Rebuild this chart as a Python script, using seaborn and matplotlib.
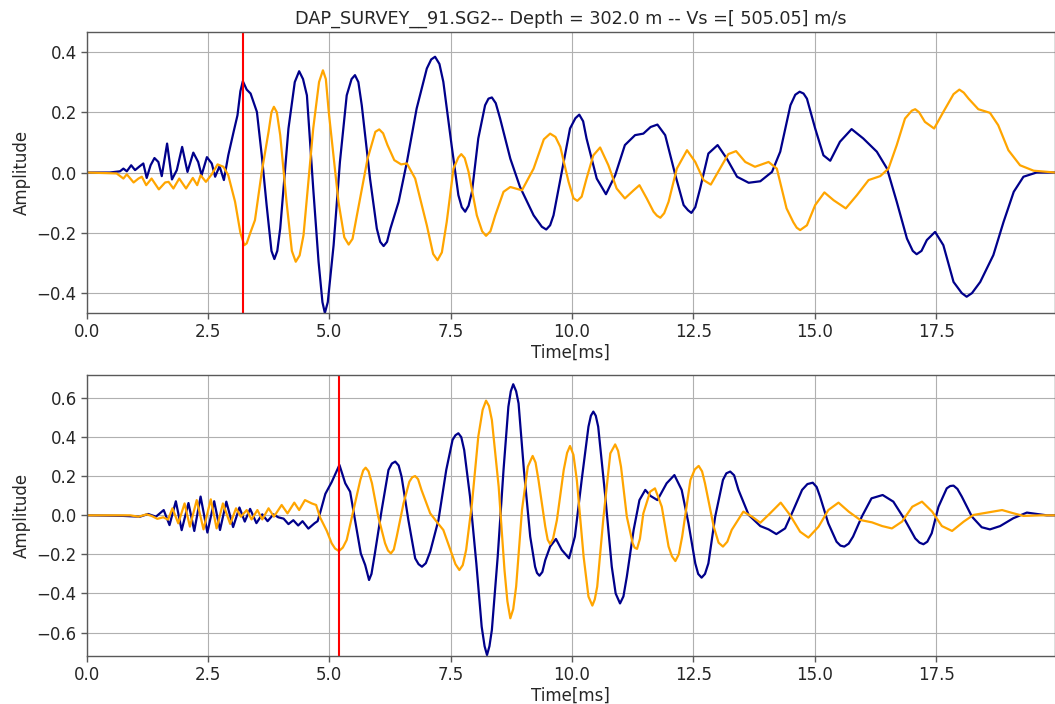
import numpy as np
import pandas as pd
import matplotlib
matplotlib.use("Agg")
import matplotlib.pyplot as plt
import seaborn as sns

# Waveforms: (time [ms], amplitude)
top_blue = [
    (0.00, 0.000), (0.48, 0.000), (0.69, 0.004), (0.76, 0.013), (0.83, 0.004),
    (0.92, 0.024), (1.00, 0.008), (1.09, 0.020), (1.17, 0.030), (1.24, -0.018),
    (1.32, 0.024), (1.40, 0.048), (1.48, 0.035), (1.55, -0.012), (1.66, 0.096),
    (1.76, -0.023), (1.86, 0.008), (1.97, 0.085), (2.08, 0.002), (2.20, 0.066),
    (2.30, 0.035), (2.37, -0.009), (2.48, 0.051), (2.58, 0.030), (2.65, -0.014),
    (2.74, 0.021), (2.83, -0.025), (2.92, 0.057), (3.03, 0.135), (3.11, 0.190),
    (3.22, 0.303), (3.30, 0.275), (3.38, 0.262), (3.51, 0.201), (3.61, 0.057),
    (3.71, -0.108), (3.87, -0.287), (3.99, -0.186), (4.16, 0.146), (4.38, 0.336),
    (4.54, 0.256), (4.67, -0.053), (4.78, -0.296), (4.91, -0.466), (5.09, -0.241),
    (5.22, 0.035), (5.36, 0.256), (5.53, 0.323), (5.67, 0.223), (5.84, -0.020),
    (5.98, -0.186), (6.12, -0.244), (6.26, -0.186), (6.43, -0.097), (6.60, 0.035),
    (6.80, 0.212), (7.01, 0.345), (7.18, 0.384), (7.35, 0.301), (7.52, 0.091),
    (7.66, -0.075), (7.80, -0.130), (7.94, -0.064), (8.07, 0.113), (8.21, 0.223),
    (8.35, 0.249), (8.52, 0.179), (8.73, 0.046), (8.93, -0.048), (9.21, -0.142),
    (9.47, -0.189), (9.62, -0.142), (9.79, 0.002), (9.96, 0.146), (10.15, 0.192),
    (10.30, 0.113), (10.51, -0.020), (10.70, -0.072), (10.89, -0.009), (11.09, 0.091),
    (11.30, 0.124), (11.47, 0.129), (11.62, 0.151), (11.76, 0.159), (11.92, 0.124),
    (12.13, -0.009), (12.30, -0.108), (12.46, -0.134), (12.64, -0.053), (12.81, 0.063),
    (13.00, 0.091), (13.19, 0.046), (13.40, -0.014), (13.64, -0.034), (13.88, -0.029),
    (14.12, 0.002), (14.29, 0.069), (14.50, 0.223), (14.69, 0.268), (14.84, 0.245),
    (15.01, 0.146), (15.18, 0.057), (15.32, 0.039), (15.52, 0.102), (15.76, 0.144),
    (16.00, 0.113), (16.28, 0.069), (16.49, 0.013), (16.69, -0.097), (16.90, -0.219),
    (17.10, -0.271), (17.31, -0.224), (17.48, -0.197), (17.65, -0.241), (17.86, -0.363),
    (18.13, -0.412), (18.41, -0.363), (18.68, -0.274), (18.89, -0.164), (19.10, -0.064),
    (19.30, -0.014), (19.57, 0.000), (19.95, 0.000),
    # rounded tops
    (3.17, 0.270), (3.81, -0.260), (3.93, -0.260), (4.29, 0.300), (4.46, 0.310),
    (4.86, -0.430), (4.97, -0.430), (5.46, 0.310), (5.60, 0.300), (6.05, -0.230),
    (6.19, -0.230), (7.10, 0.375), (7.27, 0.360), (7.73, -0.115), (7.87, -0.110),
    (8.28, 0.245), (8.43, 0.230), (9.38, -0.180), (9.55, -0.175), (10.07, 0.180),
    (10.23, 0.170), (12.39, -0.125), (12.54, -0.115), (14.60, 0.258), (14.77, 0.262),
    (17.02, -0.260), (17.20, -0.260), (18.03, -0.400), (18.24, -0.400),
]

top_orange = [
    (0.00, 0.000), (0.62, -0.003), (0.76, -0.020), (0.83, -0.006), (0.97, -0.033),
    (1.07, -0.020), (1.14, -0.014), (1.23, -0.042), (1.34, -0.020), (1.49, -0.056),
    (1.62, -0.033), (1.69, -0.031), (1.79, -0.053), (1.91, -0.020), (2.05, -0.053),
    (2.19, -0.018), (2.28, -0.042), (2.35, -0.009), (2.46, -0.031), (2.58, -0.006),
    (2.70, 0.027), (2.82, 0.019), (2.92, -0.009), (3.06, -0.097), (3.25, -0.241),
    (3.37, -0.202), (3.47, -0.158), (3.61, 0.002), (3.75, 0.135), (3.86, 0.218),
    (3.99, 0.124), (4.12, -0.097), (4.31, -0.296), (4.47, -0.208), (4.67, 0.146),
    (4.87, 0.339), (4.99, 0.201), (5.19, -0.097), (5.40, -0.239), (5.57, -0.142),
    (5.79, 0.046), (6.03, 0.143), (6.20, 0.091), (6.34, 0.041), (6.48, 0.027),
    (6.60, 0.030), (6.77, -0.020), (7.01, -0.175), (7.23, -0.291), (7.42, -0.164),
    (7.56, 0.013), (7.72, 0.061), (7.87, 0.002), (8.04, -0.142), (8.23, -0.210),
    (8.42, -0.142), (8.59, -0.064), (8.73, -0.048), (8.97, -0.059), (9.21, 0.013),
    (9.55, 0.129), (9.76, 0.085), (9.93, -0.031), (10.11, -0.094), (10.30, -0.020),
    (10.44, 0.057), (10.58, 0.083), (10.75, 0.024), (10.92, -0.053), (11.09, -0.086),
    (11.27, -0.059), (11.39, -0.042), (11.54, -0.086), (11.68, -0.130), (11.82, -0.150),
    (11.99, -0.097), (12.16, 0.013), (12.37, 0.074), (12.54, 0.035), (12.71, -0.025),
    (12.86, -0.040), (13.05, 0.013), (13.22, 0.061), (13.38, 0.071), (13.57, 0.035),
    (13.77, 0.019), (14.05, 0.035), (14.22, 0.013), (14.42, -0.119), (14.70, -0.191),
    (14.84, -0.175), (15.01, -0.108), (15.20, -0.066), (15.39, -0.092), (15.64, -0.119),
    (15.87, -0.075), (16.11, -0.025), (16.35, -0.012), (16.52, 0.013), (16.69, 0.091),
    (16.86, 0.179), (17.07, 0.210), (17.27, 0.168), (17.46, 0.146), (17.65, 0.201),
    (17.98, 0.275), (18.17, 0.245), (18.37, 0.210), (18.61, 0.198), (18.78, 0.157),
    (18.99, 0.074), (19.23, 0.024), (19.51, 0.006), (19.95, 0.000),
    # rounded tops
    (3.17, -0.200), (3.30, -0.235), (3.81, 0.200), (3.92, 0.200), (4.23, -0.260),
    (4.39, -0.275), (4.79, 0.300), (4.93, 0.310), (5.31, -0.215), (5.48, -0.220),
    (5.95, 0.135), (6.11, 0.130), (7.14, -0.270), (7.32, -0.265), (7.66, 0.050),
    (7.79, 0.048), (8.15, -0.195), (8.32, -0.195), (9.42, 0.110), (9.66, 0.118),
    (10.03, -0.085), (10.20, -0.080), (11.75, -0.143), (11.90, -0.135), (14.56, -0.165),
    (14.63, -0.183), (17.00, 0.205), (17.15, 0.200), (17.86, 0.260), (18.07, 0.265),
]

bottom_blue = [
    (0.00, 0.000), (0.76, -0.003), (1.10, -0.007), (1.27, 0.007), (1.43, -0.007),
    (1.59, 0.027), (1.71, -0.050), (1.84, 0.072), (1.96, -0.076), (2.10, 0.063),
    (2.22, -0.080), (2.35, 0.096), (2.49, -0.088), (2.63, 0.072), (2.75, -0.075),
    (2.88, 0.070), (3.02, -0.060), (3.15, 0.040), (3.26, -0.032), (3.37, 0.033),
    (3.50, -0.040), (3.62, 0.005), (3.73, -0.030), (3.85, 0.005), (3.95, -0.010),
    (4.06, -0.017), (4.16, -0.045), (4.26, -0.025), (4.36, -0.052), (4.45, -0.030),
    (4.57, -0.068), (4.70, -0.040), (4.76, -0.030), (4.82, 0.020), (4.92, 0.110),
    (5.05, 0.170), (5.21, 0.258), (5.33, 0.164), (5.43, 0.121), (5.53, -0.024),
    (5.65, -0.195), (5.74, -0.254), (5.82, -0.331), (5.94, -0.195), (6.08, 0.027),
    (6.22, 0.232), (6.36, 0.275), (6.49, 0.198), (6.63, -0.024), (6.77, -0.220),
    (6.91, -0.263), (7.08, -0.186), (7.25, -0.024), (7.41, 0.232), (7.54, 0.386),
    (7.66, 0.420), (7.78, 0.334), (7.90, 0.096), (8.03, -0.246), (8.14, -0.570),
    (8.25, -0.715), (8.35, -0.587), (8.47, -0.212), (8.59, 0.232), (8.69, 0.556),
    (8.79, 0.671), (8.90, 0.573), (9.01, 0.232), (9.14, -0.109), (9.24, -0.263),
    (9.33, -0.309), (9.45, -0.229), (9.55, -0.160), (9.67, -0.121), (9.79, -0.177),
    (9.94, -0.220), (10.06, -0.109), (10.20, 0.181), (10.34, 0.454), (10.44, 0.531),
    (10.54, 0.454), (10.68, 0.113), (10.82, -0.263), (10.99, -0.451), (11.13, -0.314),
    (11.27, -0.075), (11.39, 0.078), (11.51, 0.130), (11.62, 0.099), (11.76, 0.078),
    (11.95, 0.164), (12.11, 0.206), (12.26, 0.130), (12.40, -0.041), (12.54, -0.246),
    (12.67, -0.319), (12.81, -0.246), (12.95, -0.007), (13.11, 0.181), (13.26, 0.224),
    (13.43, 0.130), (13.64, 0.002), (13.88, -0.055), (14.05, -0.072), (14.21, -0.096),
    (14.39, -0.067), (14.56, 0.027), (14.74, 0.130), (14.96, 0.167), (15.11, 0.096),
    (15.28, -0.041), (15.45, -0.135), (15.61, -0.160), (15.79, -0.109), (15.97, -0.007),
    (16.17, 0.087), (16.40, 0.104), (16.62, 0.070), (16.86, -0.024), (17.07, -0.118),
    (17.24, -0.148), (17.41, -0.092), (17.55, 0.044), (17.72, 0.138), (17.86, 0.152),
    (18.03, 0.096), (18.24, -0.007), (18.44, -0.061), (18.61, -0.072), (18.82, -0.055),
    (19.09, -0.015), (19.37, 0.014), (19.58, 0.007), (19.78, 0.000), (19.95, 0.000),
    # rounded tops
    (5.87, -0.300), (6.29, 0.265), (6.43, 0.255), (6.84, -0.250), (6.99, -0.245),
    (7.60, 0.410), (7.72, 0.400), (8.20, -0.670), (8.30, -0.670), (8.74, 0.635),
    (8.85, 0.635), (9.28, -0.295), (9.39, -0.290), (10.39, 0.510), (10.49, 0.510),
    (10.90, -0.400), (11.06, -0.415), (12.60, -0.300), (12.74, -0.300), (13.18, 0.215),
    (13.34, 0.205), (14.85, 0.160), (15.04, 0.145), (15.53, -0.155), (15.70, -0.145),
    (17.16, -0.140), (17.32, -0.135), (17.79, 0.150), (17.94, 0.135),
]

bottom_orange = [
    (0.00, 0.000), (0.90, 0.000), (1.07, -0.007), (1.24, 0.005), (1.34, -0.003),
    (1.46, -0.018), (1.58, -0.010), (1.68, -0.022), (1.77, 0.036), (1.89, -0.041),
    (2.02, 0.061), (2.13, -0.058), (2.27, 0.078), (2.41, -0.072), (2.56, 0.082),
    (2.68, -0.067), (2.81, 0.061), (2.96, -0.044), (3.08, 0.036), (3.18, -0.007),
    (3.30, 0.027), (3.40, -0.021), (3.52, 0.027), (3.62, -0.021), (3.75, 0.036),
    (3.86, -0.007), (4.02, 0.053), (4.14, 0.010), (4.28, 0.065), (4.38, 0.027),
    (4.50, 0.078), (4.64, 0.061), (4.73, 0.053), (4.81, -0.010), (4.95, -0.080),
    (5.05, -0.143), (5.20, -0.183), (5.36, -0.126), (5.50, 0.027), (5.64, 0.181),
    (5.75, 0.244), (5.88, 0.164), (6.01, -0.007), (6.15, -0.143), (6.27, -0.195),
    (6.39, -0.109), (6.53, 0.061), (6.65, 0.172), (6.77, 0.201), (6.90, 0.130),
    (7.08, 0.010), (7.23, -0.038), (7.35, -0.075), (7.52, -0.195), (7.68, -0.280),
    (7.82, -0.177), (7.94, 0.061), (8.07, 0.403), (8.23, 0.587), (8.35, 0.488),
    (8.49, 0.147), (8.61, -0.280), (8.73, -0.527), (8.85, -0.365), (8.97, 0.027),
    (9.09, 0.249), (9.19, 0.304), (9.31, 0.181), (9.45, -0.058), (9.55, -0.147),
    (9.69, -0.024), (9.83, 0.232), (9.96, 0.355), (10.10, 0.181), (10.24, -0.212),
    (10.34, -0.416), (10.42, -0.462), (10.52, -0.365), (10.65, -0.007), (10.79, 0.317),
    (10.89, 0.363), (11.01, 0.249), (11.13, -0.007), (11.25, -0.143), (11.34, -0.172),
    (11.47, 0.010), (11.61, 0.121), (11.71, 0.138), (11.85, 0.044), (11.99, -0.160),
    (12.13, -0.234), (12.27, -0.109), (12.44, 0.181), (12.61, 0.253), (12.74, 0.164),
    (12.92, -0.058), (13.11, -0.160), (13.29, -0.075), (13.53, 0.019), (13.71, -0.007),
    (13.88, -0.038), (14.08, 0.010), (14.30, 0.065), (14.49, 0.002), (14.70, -0.084),
    (14.87, -0.114), (15.08, -0.058), (15.28, 0.027), (15.49, 0.065), (15.70, 0.019),
    (15.94, -0.024), (16.18, -0.036), (16.39, -0.055), (16.59, -0.067), (16.80, -0.032),
    (17.01, 0.044), (17.21, 0.070), (17.42, 0.019), (17.62, -0.055), (17.83, -0.080),
    (18.07, -0.032), (18.27, 0.002), (18.55, 0.014), (18.86, 0.027), (19.10, 0.010),
    (19.30, -0.003), (19.65, 0.000), (19.95, 0.000),
    # rounded tops
    (5.12, -0.170), (5.28, -0.165), (5.70, 0.230), (5.81, 0.225), (6.21, -0.180),
    (6.33, -0.175), (6.71, 0.195), (6.83, 0.185), (7.60, -0.250), (7.75, -0.255),
    (8.16, 0.540), (8.29, 0.560), (8.67, -0.440), (8.79, -0.480), (9.25, 0.270),
    (9.50, -0.125), (9.61, -0.120), (9.90, 0.320), (10.03, 0.310), (10.47, -0.430),
    (10.95, 0.330), (11.29, -0.165), (11.40, -0.120), (12.06, -0.210), (12.20, -0.200),
    (12.53, 0.235), (12.68, 0.225), (13.02, -0.140), (13.20, -0.135),
]

# picked arrival times (red markers)
picks = [3.22, 5.20]
y_limits = [0.466, 0.72]
x_ticks = [0.0, 2.5, 5.0, 7.5, 10.0, 12.5, 15.0, 17.5]
title = "DAP_SURVEY__91.SG2-- Depth = 302.0 m -- Vs =[ 505.05] m/s"

sns.set_style("whitegrid", {
    "axes.edgecolor": "0.35",
    "grid.color": "#b0b0b0",
    "xtick.bottom": True,
    "ytick.left": True,
})
plt.rcParams["font.family"] = ["DejaVu Sans"]
plt.rcParams["font.size"] = 12

fig = plt.figure(figsize=(10.55, 7.04), dpi=100)
ax1 = fig.add_axes([0.082, 0.5554, 0.918, 0.3991])
ax2 = fig.add_axes([0.082, 0.0682, 0.918, 0.3996])

panels = [(ax1, top_blue, top_orange), (ax2, bottom_blue, bottom_orange)]
for i, (ax, blue, orange) in enumerate(panels):
    b = pd.DataFrame(blue, columns=["t", "amp"])
    o = pd.DataFrame(orange, columns=["t", "amp"])
    sns.lineplot(data=b, x="t", y="amp", ax=ax, color="darkblue", lw=1.6, estimator=None)
    sns.lineplot(data=o, x="t", y="amp", ax=ax, color="orange", lw=1.6, estimator=None)
    ax.axvline(picks[i], color="red", lw=1.5)
    ax.set_xlim(0, 19.95)
    ax.set_ylim(-y_limits[i], y_limits[i])
    ax.set_xticks(x_ticks)
    ax.set_xlabel("Time[ms]", fontsize=12, labelpad=2)
    ax.set_ylabel("Amplitude", fontsize=12)
    ax.tick_params(labelsize=12, length=4, width=1, color="0.35", pad=3)
    ax.grid(True, color="#b0b0b0", lw=0.8)
    for s in ax.spines.values():
        s.set_linewidth(1.0)

ax1.set_title(title, fontsize=12.7, pad=6)

plt.savefig("out.png", dpi=100)
